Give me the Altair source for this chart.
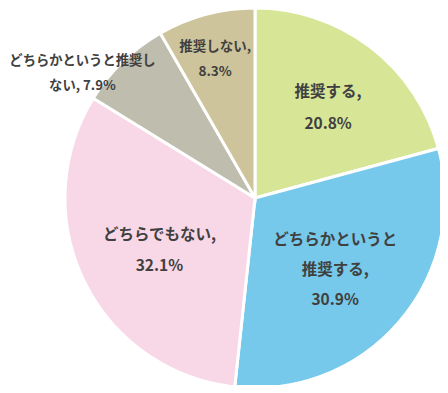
import altair as alt
import pandas as pd

categories = ["推奨する", "どちらかというと推奨する", "どちらでもない", "どちらかというと推奨しない", "推奨しない"]
labels = ["推奨する,\n20.8%", "どちらかというと\n推奨する,\n30.9%", "どちらでもない,\n32.1%",
          "どちらかというと推奨し\nない, 7.9%", "推奨しない,\n8.3%"]
values = [20.8, 30.9, 32.1, 7.9, 8.3]
colors = ["#d7e597", "#76c9ea", "#f8d8e7", "#bfbdae", "#cec49b"]

df = pd.DataFrame({"cat": categories, "label": labels, "value": values, "order": list(range(len(values)))})

CX, CY, R = 247, 190, 190

base = alt.Chart(df).encode(
    theta=alt.Theta("value:Q", stack=True),
    order=alt.Order("order:Q"),
    x=alt.value(CX),
    y=alt.value(CY),
)

arcs = base.mark_arc(outerRadius=R, stroke="white", strokeWidth=3).encode(
    color=alt.Color("cat:N", scale=alt.Scale(domain=categories, range=colors), legend=None)
)

# (slice index, label radius, dx, dy, line height, font size)
label_style = [
    (0, 112, 5, -17, 32, 15.5),
    (1, 112, -5, -31, 30, 15.5),
    (2, 112, 5, -12, 31, 15.5),
    (3, 212, -25, 15, 25, 13.3),
    (4, 143, -3, -13, 25, 13.5),
]

layers = [arcs]
for i, rad, dx, dy, lh, size in label_style:
    layers.append(base.mark_text(
        radius=rad, dx=dx, dy=dy, lineBreak="\n", lineHeight=lh, font="Noto Sans CJK JP",
        fontSize=size, fontWeight="bold", color="#404040", align="center", baseline="middle"
    ).encode(text=alt.condition(alt.FieldEqualPredicate(field="order", equal=i), "label:N", alt.value(""))))

chart = alt.layer(*layers).properties(
    width=432, height=377, padding=0, autosize="none"
).configure_view(stroke=None)

chart.save("out.html", embed_options={"renderer": "svg", "actions": False})
